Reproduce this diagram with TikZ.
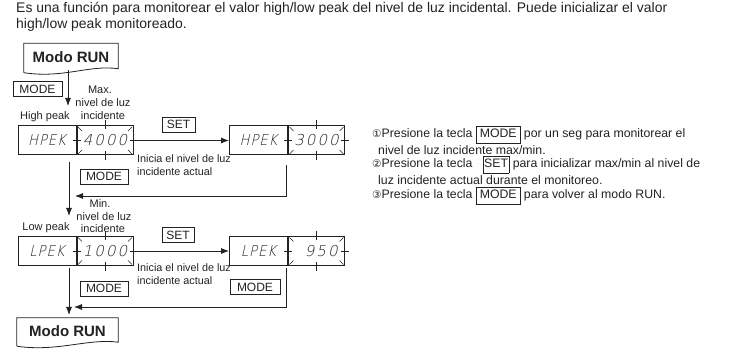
\documentclass[tikz,border=0pt]{standalone}
\usepackage{fontspec}
\setmainfont{Liberation Sans}
\newfontfamily\symfont{DejaVu Sans}
\newfontfamily\segfont[FakeSlant=0.22,LetterSpace=14]{DejaVu Sans ExtraLight}
\newfontfamily\segfontb[FakeSlant=0.22,FakeStretch=0.88,LetterSpace=6]{DejaVu Sans ExtraLight}
\usetikzlibrary{arrows.meta,calc}
\definecolor{ink}{HTML}{222222}
\setlength{\fboxsep}{1.2pt}
\setlength{\fboxrule}{0.6pt}
\newcommand\keyb[2]{\fbox{\strut\makebox[#1][c]{#2}}}
\newcommand\segdecor[1]{%
  \draw[ink,line width=0.5pt] ($(#1.north west)+(1.5,1.5)$) -- ++(4,4);
  \draw[ink,line width=0.5pt] ($(#1.south west)+(1.5,-1.5)$) -- ++(4,-4);
  \draw[ink,line width=0.5pt] ($(#1.north east)+(-1.5,1.5)$) -- ++(-4,4);
  \draw[ink,line width=0.5pt] ($(#1.south east)+(-1.5,-1.5)$) -- ++(-4,-4);
  \draw[ink,line width=0.5pt] ($(#1.north)+(0,-5)$) -- ++(0,9);
  \draw[ink,line width=0.5pt] ($(#1.south)+(0,-4)$) -- ++(0,9);
  \draw[ink,line width=0.5pt] ($(#1.west)+(-4,0)$) -- ++(8,0);
  \draw[ink,line width=0.5pt] ($(#1.east)+(-4,0)$) -- ++(8,0);
}
\newcommand\docshape[1]{%
  \draw[ink,line width=0.8pt] ($(#1.south west)+(0,2)$) -- (#1.north west) -- (#1.north east) -- ($(#1.south east)+(0,-2)$)
    .. controls ($(#1.south east)+(-30,-6)$) and ($(#1.south west)+(40,8)$) .. ($(#1.south west)+(0,2)$);
}
\begin{document}
\begin{tikzpicture}[x=1pt,y=-1pt,
  txt/.style={text=ink,inner sep=0pt,font=\fontsize{11}{13}\selectfont},
  hdr/.style={text=ink,inner sep=0pt,anchor=west,font=\fontsize{13.95}{16}\selectfont},
  rtxt/.style={text=ink,inner sep=0pt,anchor=west,font=\fontsize{12.3}{14}\selectfont},
  small/.style={text=ink,inner sep=0pt,anchor=north west,align=left,font=\fontsize{10.8}{13}\selectfont},
  keybox/.style={draw=ink,line width=0.6pt,text=ink,inner sep=0pt,minimum height=15pt,font=\fontsize{12}{12}\selectfont},
  run/.style={text=ink,inner sep=0pt,font=\fontsize{15}{15}\selectfont\bfseries},
  segl/.style={draw=ink,line width=1pt,text=ink,inner sep=0pt,minimum width=58pt,minimum height=29pt,font=\fontsize{15}{15}\segfontb},
  segr/.style={draw=ink,line width=1pt,text=ink,inner sep=0pt,minimum width=56pt,minimum height=29pt,font=\fontsize{15}{15}\segfont},
  conn/.style={draw=ink,line width=0.8pt},
  arr/.style={conn,-{Latex[length=8pt,width=6pt]}}]
\useasboundingbox (0,0) rectangle (731,352);

% header
\node[hdr] (h1) at (16,9) {Es una función para monitorear el valor high/low peak del nivel de luz incidental. Puede inicializar el valor};
\node[hdr] (h2) at (16,25) {high/low peak monitoreado.};

% top RUN
\node[run,minimum width=94pt,minimum height=27pt] (run1) at (71,57) {Modo RUN};
\docshape{run1}
\node[keybox,minimum width=49pt] (m1) at (37.5,89) {MODE};
\coordinate (p1) at (68,70.5);
\coordinate (p2) at (68,106);
\draw[arr] (p1) -- (p2);

% row 1 labels
\node[txt] (hp) at (45,117) {High peak};
\node[txt] (mx1) at (100,90) {Max.};
\node[txt] (mx2) at (103,103) {nivel de luz};
\node[txt] (mx3) at (103,116) {incidente};

% row 1 displays
\node[segl] (d1l) at (47,140.5) {HPEK};
\node[segr,anchor=west] (d1r) at (d1l.east) {4000};
\segdecor{d1r}
\node[segl,anchor=west] (d2l) at (229,140.5) {HPEK};
\node[segr,anchor=west] (d2r) at (d2l.east) {3000};
\segdecor{d2r}
\node[keybox,minimum width=33pt] (s1) at (178.5,124.5) {SET};
\draw[arr] (d1r.east) -- (d2l.west);
\node[small] (i1) at (137,154) {Inicia el nivel de luz\\incidente actual};
\node[keybox,minimum width=48pt] (m2) at (104,176.5) {MODE};
\coordinate (q1) at (286,165);
\coordinate (q2) at (75,196);
\draw[arr] (q1) |- (q2);
\coordinate (r1) at (69,162);
\coordinate (r2) at (69,216);
\draw[arr] (r1) -- (r2);

% row 2 labels
\node[txt] (lp) at (46,228) {Low peak};
\node[txt] (mn1) at (100,204) {Min.};
\node[txt] (mn2) at (104,217) {nivel de luz};
\node[txt] (mn3) at (103,229) {incidente};

% row 2 displays
\node[segl] (d3l) at (47,251) {LPEK};
\node[segr,anchor=west] (d3r) at (d3l.east) {1000};
\segdecor{d3r}
\node[segl,anchor=west] (d4l) at (229,251) {LPEK};
\node[segr,anchor=west] (d4r) at (d4l.east) {\phantom{0}950};
\segdecor{d4r}
\node[keybox,minimum width=32pt] (s2) at (178,235) {SET};
\draw[arr] (d3r.east) -- (d4l.west);
\node[small] (i2) at (137,263) {Inicia el nivel de luz\\incidente actual};
\node[keybox,minimum width=48pt] (m3) at (104,288.5) {MODE};
\node[keybox,minimum width=50pt] (m4) at (255,287) {MODE};
\coordinate (u1) at (286,268);
\coordinate (u2) at (74,307);
\draw[arr] (u1) |- (u2);
\coordinate (t1) at (69,268);
\coordinate (t2) at (69,315);
\draw[arr] (t1) -- (t2);

% bottom RUN
\node[run,minimum width=101pt,minimum height=26pt] (run2) at (67.5,331) {Modo RUN};
\docshape{run2}

% right text
\node[rtxt] (l1) at (372,135) {{\symfont\fontsize{10.5}{10}\selectfont ①}Presione la tecla \keyb{41pt}{MODE} por un seg para monitorear el};
\node[rtxt] (l2) at (378,150) {nivel de luz incidente max/min.};
\node[rtxt] (l3) at (372,165) {{\symfont\fontsize{10.5}{10}\selectfont ②}Presione la tecla \ \ \keyb{23pt}{SET}\ para inicializar max/min al nivel de};
\node[rtxt] (l4) at (378,180) {luz incidente actual durante el monitoreo.};
\node[rtxt] (l5) at (372,196) {{\symfont\fontsize{10.5}{10}\selectfont ③}Presione la tecla \keyb{41pt}{MODE} para volver al modo RUN.};
\end{tikzpicture}
\end{document}
